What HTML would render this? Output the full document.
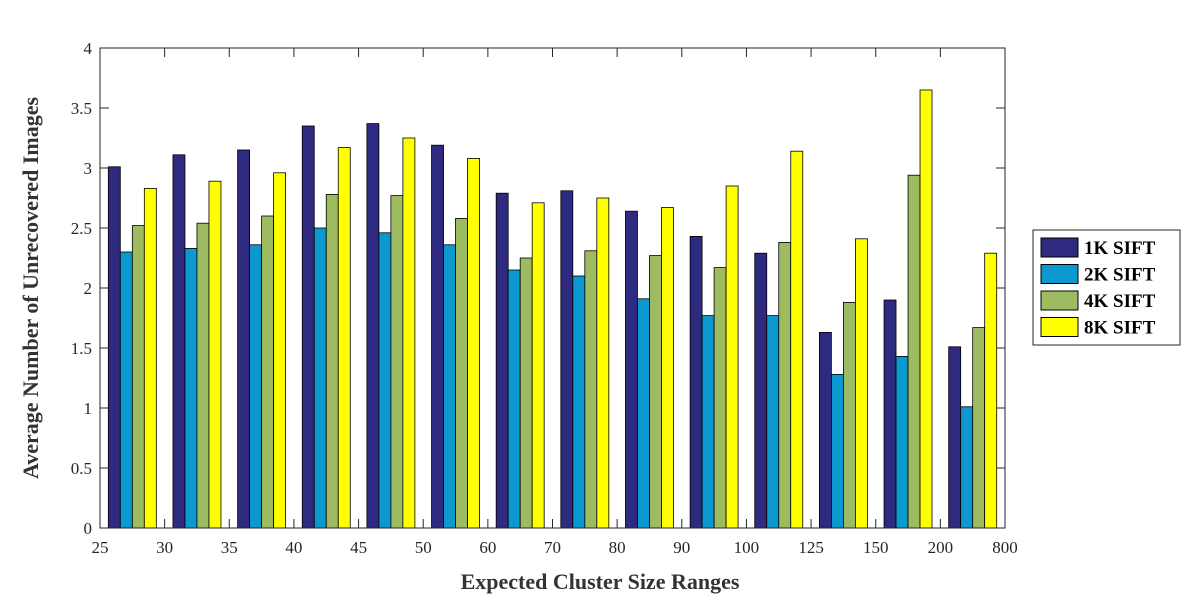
<!DOCTYPE html>
<html><head><meta charset="utf-8"><style>
body{margin:0;background:#fff}
svg text{font-family:"Liberation Serif",serif}
</style></head><body>
<svg id="chart" width="1200" height="600" viewBox="0 0 1200 600">
<rect x="0" y="0" width="1200" height="600" fill="#fff"/>
<g id="bars"></g>
<g id="axes"></g>
<text x="600" y="589" text-anchor="middle" font-size="22" font-weight="bold" fill="#333">Expected Cluster Size Ranges</text>
<text transform="translate(38,288) rotate(-90)" text-anchor="middle" font-size="22" font-weight="bold" fill="#333">Average Number of Unrecovered Images</text>
<g id="legend"></g>
</svg>
<script>
const categories=["25","30","35","40","45","50","60","70","80","90","100","125","150","200","800"];
const seriesNames=["1K SIFT","2K SIFT","4K SIFT","8K SIFT"];
const s1K=[3.01,3.11,3.15,3.35,3.37,3.19,2.79,2.81,2.64,2.43,2.29,1.63,1.90,1.51];
const s2K=[2.30,2.33,2.36,2.50,2.46,2.36,2.15,2.10,1.91,1.77,1.77,1.28,1.43,1.01];
const s4K=[2.52,2.54,2.60,2.78,2.77,2.58,2.25,2.31,2.27,2.17,2.38,1.88,2.94,1.67];
const s8K=[2.83,2.89,2.96,3.17,3.25,3.08,2.71,2.75,2.67,2.85,3.14,2.41,3.65,2.29];
const yTicks=[0,0.5,1,1.5,2,2.5,3,3.5,4];
const colors=["#2e2a80","#0b99cf","#9dbb61","#ffff00"];
const NS="http://www.w3.org/2000/svg";
const L=100,R=1005,T=48,B=528;
const y=v=>B-(v/4)*(B-T);
const gw=(R-L)/(categories.length-1);
const x=i=>L+i*gw;
const bw=12;
const series=[s1K,s2K,s4K,s8K];
const barsG=document.getElementById('bars');
series.forEach((s,si)=>{
  s.forEach((v,i)=>{
    const r=document.createElementNS(NS,'rect');
    r.setAttribute('x',x(i)+gw/2-2*bw+si*bw);
    r.setAttribute('y',y(v));
    r.setAttribute('width',bw);
    r.setAttribute('height',B-y(v));
    r.setAttribute('fill',colors[si]);
    r.setAttribute('stroke','#000');
    r.setAttribute('stroke-width','0.8');
    
    
    barsG.appendChild(r);
  });
});
const ax=document.getElementById('axes');
const box=document.createElementNS(NS,'rect');
box.setAttribute('x',L);box.setAttribute('y',T);box.setAttribute('width',R-L);box.setAttribute('height',B-T);
box.setAttribute('fill','none');box.setAttribute('stroke','#262626');box.setAttribute('stroke-width','1');


ax.appendChild(box);
function line(x1,y1,x2,y2){const l=document.createElementNS(NS,'line');l.setAttribute('x1',x1);l.setAttribute('y1',y1);l.setAttribute('x2',x2);l.setAttribute('y2',y2);l.setAttribute('stroke','#262626');


ax.appendChild(l);}
yTicks.forEach(v=>{
  line(L,y(v),L+9,y(v));line(R,y(v),R-9,y(v));
  const t=document.createElementNS(NS,'text');
  t.setAttribute('x',L-8);t.setAttribute('y',y(v)+6);t.setAttribute('text-anchor','end');t.setAttribute('font-size','17');t.setAttribute('fill','#262626');
  t.textContent=String(v);
  
  
  ax.appendChild(t);
});
categories.forEach((c,i)=>{
  line(x(i),B,x(i),B-9);line(x(i),T,x(i),T+9);
  const t=document.createElementNS(NS,'text');
  t.setAttribute('x',x(i));t.setAttribute('y',B+25);t.setAttribute('text-anchor','middle');t.setAttribute('font-size','17');t.setAttribute('fill','#262626');
  t.textContent=c;
  
  
  ax.appendChild(t);
});
const lg=document.getElementById('legend');
const lb=document.createElementNS(NS,'rect');
lb.setAttribute('x',1033);lb.setAttribute('y',230);lb.setAttribute('width',147);lb.setAttribute('height',115);
lb.setAttribute('fill','#fff');lb.setAttribute('stroke','#262626');


lg.appendChild(lb);
seriesNames.forEach((n,i)=>{
  const yy=238+i*26.5;
  const r=document.createElementNS(NS,'rect');
  r.setAttribute('x',1041);r.setAttribute('y',yy);r.setAttribute('width',37);r.setAttribute('height',19);
  r.setAttribute('fill',colors[i]);r.setAttribute('stroke','#000');
  
  
  lg.appendChild(r);
  const t=document.createElementNS(NS,'text');
  t.setAttribute('x',1084);t.setAttribute('y',yy+16);t.setAttribute('font-size','19');t.setAttribute('font-weight','bold');t.setAttribute('fill','#000');
  t.textContent=n;
  
  
  lg.appendChild(t);
});
</script>
</body></html>
